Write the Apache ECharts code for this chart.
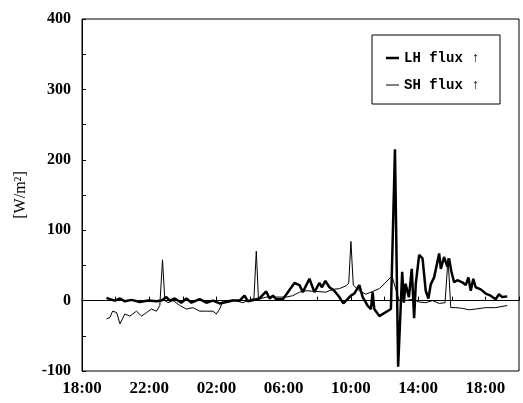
<!DOCTYPE html>
<html><head><meta charset="utf-8">
<script src="https://cdn.jsdelivr.net/npm/echarts@6/dist/echarts.min.js"></script>
<style>html,body{margin:0;padding:0;background:#fff}#c{width:523px;height:403px}</style>
</head><body><div id="c"></div>
<script>
// hours since 18:00 of the first day
const timeTickLabels = ['18:00','22:00','02:00','06:00','10:00','14:00','18:00'];
const seriesNames = ['LH flux', 'SH flux'];

const lhTime = [1.46,1.66,1.96,2.26,2.55,2.95,3.44,3.94,4.43,4.73,5.02,5.22,5.52,5.91,6.21,6.51,7.00,7.40,7.79,8.19,8.59,8.98,9.38,9.67,9.87,10.07,10.37,10.56,10.96,11.16,11.36,11.55,11.95,12.64,12.94,13.14,13.53,13.83,14.12,14.28,14.48,14.72,15.01,15.31,15.55,15.71,16.00,16.20,16.50,16.70,16.99,17.19,17.29,17.39,17.69,18.38,18.62,18.81,19.05,19.15,19.25,19.45,19.62,19.76,19.86,20.06,20.26,20.45,20.61,20.75,20.95,21.25,21.35,21.54,21.74,21.84,21.98,22.14,22.33,22.63,22.83,22.99,23.13,23.28,23.42,23.72,24.02,24.31,24.61,24.81,25.00,25.30];
const lhValue = [4,2,0,3,-1,1,-2,0,-1,0,5,0,3,-3,3,-3,2,-3,0,-4,-2,0,0,7,-1,0,2,3,13,3,7,2,2,25,22,12,31,12,25,19,28,19,14,5,-4,0,7,10,22,5,-7,-12,12,-12,-22,-12,215,-94,41,-3,24,5,45,-25,24,65,60,14,3,23,33,67,45,62,48,60,41,26,29,26,22,33,14,31,19,16,10,7,2,9,5,6];

const shTime = [1.46,1.66,1.82,2.06,2.26,2.55,2.85,3.24,3.54,3.84,4.13,4.43,4.63,4.79,4.93,5.12,5.42,5.82,6.21,6.61,7.00,7.40,7.79,7.99,8.19,8.39,8.59,8.98,9.57,9.97,10.23,10.37,10.50,10.96,11.55,12.15,12.54,12.94,13.33,13.93,14.52,14.92,15.31,15.71,15.87,16.00,16.14,16.50,16.89,17.29,17.69,18.08,18.44,18.87,19.27,19.66,20.06,20.45,20.85,21.25,21.60,21.78,21.94,22.24,22.63,23.03,23.42,24.02,24.61,25.30];
const shValue = [-26,-24,-15,-17,-33,-19,-22,-15,-22,-17,-12,-15,-7,58,0,-3,0,-7,-12,-10,-15,-15,-15,-19,-12,0,0,1,-3,1,3,70,2,5,5,5,7,12,14,13,12,16,17,21,25,84,22,14,9,13,17,26,35,0,0,2,-2,-3,0,-4,-3,60,-10,-10,-11,-13,-12,-10,-10,-7];

const pairs = (t, v) => t.map((x, i) => [x, v[i]]);

const chart = echarts.init(document.getElementById('c'), null, {renderer: 'canvas'});
const serif = 'Liberation Serif';
chart.setOption({
  animation: false,
  backgroundColor: '#fff',
  grid: {left: 82, top: 19, right: 4, bottom: 32, show: true, borderColor: '#000', borderWidth: 1},
  xAxis: {
    type: 'value', min: 0, max: 26, interval: 2,
    axisLine: {lineStyle: {color: '#000', width: 1}},
    axisTick: {inside: true, length: 4, lineStyle: {color: '#000'}},
    splitLine: {show: false},
    axisLabel: {
      color: '#000', fontFamily: serif, fontWeight: 'bold', fontSize: 17, margin: 9,
      formatter: v => (v % 4 === 0 && v / 4 < timeTickLabels.length) ? timeTickLabels[v / 4] : ''
    }
  },
  yAxis: {
    type: 'value', min: -100, max: 400, interval: 50,
    name: '[W/m\u00b2]', nameLocation: 'middle', nameGap: 53, nameRotate: 90,
    nameTextStyle: {color: '#000', fontFamily: serif, fontSize: 16},
    axisLine: {show: true, lineStyle: {color: '#000', width: 1}},
    axisTick: {inside: true, length: 4, lineStyle: {color: '#000'}},
    splitLine: {show: false},
    axisLabel: {
      color: '#000', fontFamily: serif, fontWeight: 'bold', fontSize: 16, margin: 11,
      formatter: v => (v % 100 === 0) ? String(v) : ''
    }
  },
  series: [
    {
      name: seriesNames[1], type: 'line', data: pairs(shTime, shValue),
      showSymbol: false, symbol: 'none',
      lineStyle: {color: '#000', width: 1}, itemStyle: {color: '#000'},
      markLine: {
        silent: true, symbol: 'none', label: {show: false},
        lineStyle: {color: '#000', width: 1, type: 'solid'},
        data: [{yAxis: 0}]
      }
    },
    {
      name: seriesNames[0], type: 'line', data: pairs(lhTime, lhValue),
      showSymbol: false, symbol: 'none',
      lineStyle: {color: '#000', width: 2.5}, itemStyle: {color: '#000'}
    }
  ],
  graphic: [
    {type: 'rect', shape: {x: 372, y: 35, width: 128, height: 69}, style: {fill: '#fff', stroke: '#000', lineWidth: 1}, z: 10},
    {type: 'line', shape: {x1: 386, y1: 58, x2: 399, y2: 58}, style: {stroke: '#000', lineWidth: 2.5}, z: 11},
    {type: 'text', x: 404, y: 58, z: 11, style: {text: seriesNames[0] + ' \u2191', fontFamily: 'Liberation Mono', fontWeight: 'bold', fontSize: 14, fill: '#000', verticalAlign: 'middle'}},
    {type: 'line', shape: {x1: 386, y1: 85, x2: 399, y2: 85}, style: {stroke: '#000', lineWidth: 1}, z: 11},
    {type: 'text', x: 404, y: 85, z: 11, style: {text: seriesNames[1] + ' \u2191', fontFamily: 'Liberation Mono', fontWeight: 'bold', fontSize: 14, fill: '#000', verticalAlign: 'middle'}}
  ]
});
</script>
</body></html>
